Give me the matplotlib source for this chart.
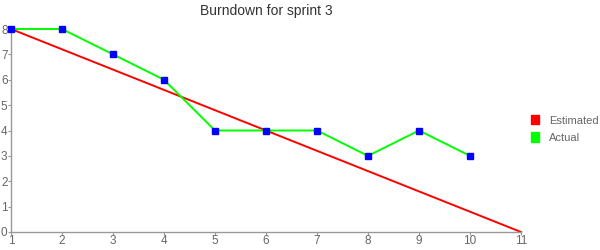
import matplotlib
matplotlib.use("Agg")
from matplotlib import pyplot as plt
from matplotlib.patches import Patch

plt.rcParams['font.family'] = ['Liberation Sans', 'DejaVu Sans']

title = "Burndown for sprint 3"
est_x = [1, 11]
est_y = [8, 0]
act_x = [1, 2, 3, 4, 5, 6, 7, 8, 9, 10]
act_y = [8, 8, 7, 6, 4, 4, 4, 3, 4, 3]
x_ticks = list(range(1, 12))
y_ticks = list(range(0, 9))

grey = '#999999'
txt = '#666666'

fig = plt.figure(figsize=(6, 2.5), dpi=100)
ax = fig.add_axes([11/600, 18/250, 510/600, 203/250])

ax.plot(est_x, est_y, color='#ff0000', lw=1.4, zorder=2, clip_on=False)
ax.plot(act_x, act_y, color='#00ff00', lw=1.4, zorder=3, clip_on=False)
ax.plot(act_x, act_y, ls='none', marker='s', ms=4, mfc='#0000ff', mec='#0000ff',
        zorder=4, clip_on=False)

ax.set_xlim(1, 11)
ax.set_ylim(0, 8)
ax.set_xticks(x_ticks)
ax.set_yticks(y_ticks)
for s in ['top', 'right']:
    ax.spines[s].set_visible(False)
for s in ['left', 'bottom']:
    ax.spines[s].set_color(grey)
    ax.spines[s].set_linewidth(1)
ax.tick_params(colors=grey, labelcolor=txt, labelsize=8.5, length=2, pad=0.5)

fig.text(266/600, 1 - 11/250, title, ha='center', va='center', fontsize=10, color='#333333')

handles = [Patch(color='#ff0000', label='Estimated'), Patch(color='#00ff00', label='Actual')]
fig.legend(handles=handles, loc='center left', bbox_to_anchor=(531/600, 1 - 129/250),
           frameon=False, fontsize=8, handlelength=0.75, handleheight=0.9, borderpad=0,
           borderaxespad=0, handletextpad=0.9, labelspacing=0.6, labelcolor=txt)

fig.savefig('out.png', dpi=100)
